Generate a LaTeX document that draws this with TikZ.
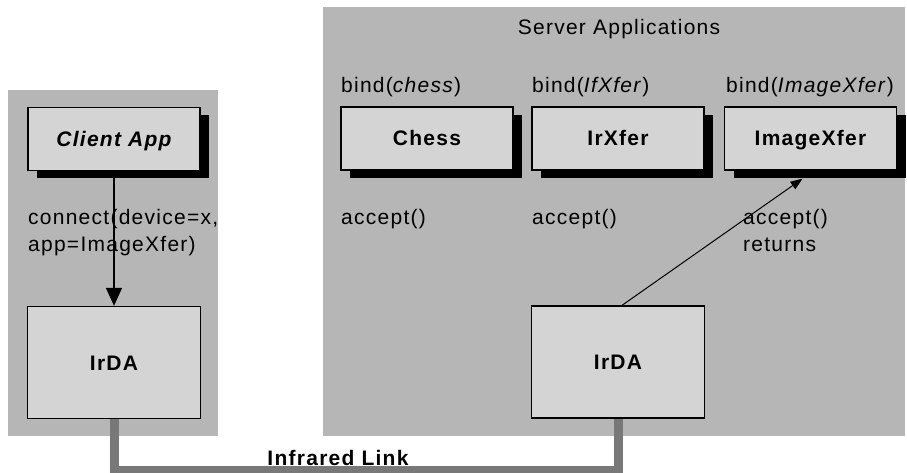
\documentclass[tikz,border=0pt]{standalone}
\usepackage{fontspec}
\setmainfont{Liberation Sans}[LetterSpace=6]
\usetikzlibrary{arrows.meta,shadows}

\definecolor{panelgray}{HTML}{B6B6B6}
\definecolor{boxgray}{HTML}{D4D4D4}
\definecolor{linkgray}{HTML}{787878}

\begin{document}
\begin{tikzpicture}[x=1pt,y=-1pt,
  every node/.style={font=\fontsize{21}{25}\selectfont, inner sep=0pt},
  boldtext/.style={font=\fontsize{21}{25}\selectfont\bfseries},
  appbox/.style={draw=black, line width=1.3pt, fill=boxgray,
    minimum width=172pt, minimum height=63pt, boldtext,
    text height=15pt, text depth=0pt,
    drop shadow={shadow xshift=9pt, shadow yshift=-8pt, fill=black, opacity=1}},
  stackbox/.style={draw=black, line width=1.3pt, fill=boxgray,
    minimum width=173pt, minimum height=112pt, boldtext,
    text height=15pt, text depth=0pt},
  panel/.style={fill=panelgray, draw=none},
  txt/.style={anchor=base west},
  link/.style={draw=linkgray, line width=9pt},
  call/.style={-{Triangle[width=16pt,length=18pt]}, line width=1.3pt},
  retn/.style={-{Triangle[width=9pt,length=12pt]}, line width=1pt}
]
\useasboundingbox (0,0) rectangle (907,473);
\fill[white] (0,0) rectangle (907,473);

% client and server panels
\fill[panel] (8,90) rectangle (218,436);
\fill[panel] (323,7) rectangle (905,436);

% protocol stacks
\node[stackbox] (irdaL) at (114,362.5) {IrDA};
\node[stackbox] (irdaR) at (618,362) {IrDA};

% infrared link between the two stacks
\coordinate (linkbase) at (0,470);
\draw[link] (irdaL.south) |- (linkbase -| irdaR.south) -- (irdaR.south);
\node[anchor=base, boldtext] (linklabel) at (338,465) {Infrared Link};

% applications
\node[appbox, font=\fontsize{21}{25}\selectfont\bfseries\itshape] (client) at (114,139) {Client App};
\node[appbox] (chess) at (427,138.5) {Chess};
\node[appbox] (irxfer) at (618,138.5) {IrXfer};
\node[appbox] (imagexfer) at (810.5,138.5) {ImageXfer};

% labels
\node[anchor=base] (srvtitle) at (619,35) {Server Applications};
\node[txt] (bindchess) at (341,93) {bind(\textit{chess})};
\node[txt] (bindirx) at (532,93) {bind(\textit{IfXfer})};
\node[txt] (bindimg) at (726,93) {bind(\textit{ImageXfer})};
\node[txt] (accchess) at (341,225) {accept()};
\node[txt] (accirx) at (532,225) {accept()};
\node[txt] (accimg) at (743,225) {accept()};
\node[txt] (accret) at (743,251) {returns};
\node[txt] (conn1) at (28,224) {connect(device=x,};
\node[txt] (conn2) at (28,251) {app=ImageXfer)};

% connectors
\draw[call] (client.south) -- (irdaL.north);
\coordinate (accepted) at ([xshift=-8pt, yshift=-8pt]imagexfer.south);
\draw[retn] ([xshift=4pt]irdaR.north) -- (accepted);
\end{tikzpicture}
\end{document}
